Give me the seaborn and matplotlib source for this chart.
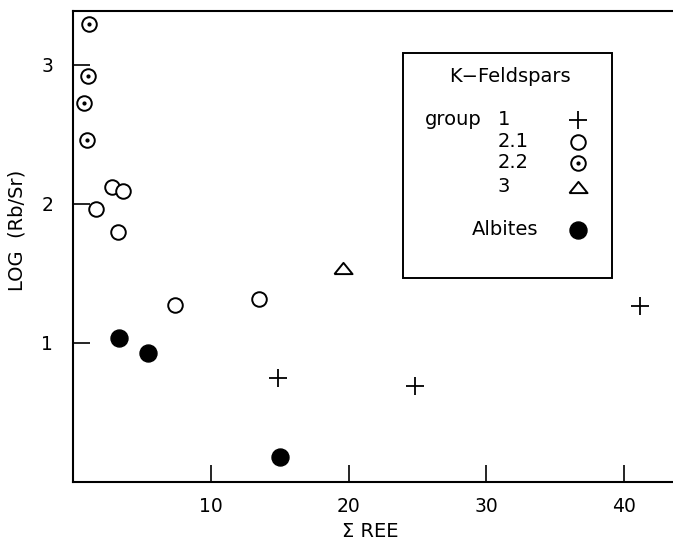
"""Scatter of LOG(Rb/Sr) vs sum REE for K-feldspar groups and albites."""

import pandas as pd
import matplotlib
matplotlib.use("Agg")
import matplotlib.pyplot as plt
import seaborn as sns
from matplotlib.patches import Rectangle

# data
g1_ree = [14.89, 24.81, 41.12]
g1_rbsr = [0.748, 0.688, 1.268]
g21_ree = [1.65, 2.84, 3.59, 3.27, 7.39, 13.51]
g21_rbsr = [1.965, 2.125, 2.09, 1.795, 1.275, 1.315]
g22_ree = [1.17, 1.10, 0.78, 1.02]
g22_rbsr = [3.295, 2.921, 2.725, 2.461]
g3_ree = [19.6]
g3_rbsr = [1.539]
alb_ree = [3.35, 5.43, 15.01]
alb_rbsr = [1.036, 0.928, 0.181]

x_ticks = [10, 20, 30, 40]
y_ticks = [1, 2, 3]
legend_title = "K\u2212Feldspars"
group_labels = ["1", "2.1", "2.2", "3"]

sns.set_style("ticks")
plt.rcParams["font.family"] = ["DejaVu Sans"]
plt.rcParams["text.color"] = "black"
plt.rcParams["axes.labelcolor"] = "black"
plt.rcParams["axes.edgecolor"] = "black"
plt.rcParams["xtick.color"] = "black"
plt.rcParams["ytick.color"] = "black"

tri = [(-1, -0.62), (1, -0.62), (0, 0.62), (-1, -0.62)]
FS = 14

df = pd.concat([
    pd.DataFrame({"ree": g1_ree, "rbsr": g1_rbsr, "grp": "1"}),
    pd.DataFrame({"ree": g21_ree, "rbsr": g21_rbsr, "grp": "2.1"}),
    pd.DataFrame({"ree": g22_ree, "rbsr": g22_rbsr, "grp": "2.2"}),
    pd.DataFrame({"ree": g3_ree, "rbsr": g3_rbsr, "grp": "3"}),
    pd.DataFrame({"ree": alb_ree, "rbsr": alb_rbsr, "grp": "alb"}),
], ignore_index=True)

fig = plt.figure(figsize=(6.73, 5.44), dpi=100)
ax = fig.add_axes([0.108, 0.114, 0.892, 0.866])

sub = df[df.grp == "1"]
sns.scatterplot(data=sub, x="ree", y="rbsr", marker="+", s=170, color="black",
                linewidth=1.3, ax=ax, legend=False)
sub = df[df.grp.isin(["2.1", "2.2"])]
sns.scatterplot(data=sub, x="ree", y="rbsr", marker="o", s=110, facecolor="white",
                edgecolor="black", linewidth=1.4, ax=ax, legend=False)
sub = df[df.grp == "2.2"]
ax.scatter(sub.ree, sub.rbsr, marker="o", s=4, color="black", zorder=5)
sub = df[df.grp == "3"]
sns.scatterplot(data=sub, x="ree", y="rbsr", marker=tri, s=170, facecolor="white",
                edgecolor="black", linewidth=1.4, ax=ax, legend=False)
sub = df[df.grp == "alb"]
sns.scatterplot(data=sub, x="ree", y="rbsr", marker="o", s=150, color="black",
                edgecolor="black", ax=ax, legend=False)

ax.set_xlim(-0.04, 43.54)
ax.set_ylim(0.0, 3.388)
ax.set_xticks(x_ticks)
ax.set_yticks(y_ticks)
ax.tick_params(axis="both", direction="in", length=12, width=1.2, labelsize=13.5,
               bottom=True, left=True, top=False, right=False)
ax.tick_params(axis="x", pad=11)
ax.tick_params(axis="y", pad=14)
ax.spines["right"].set_visible(False)
for s in ["left", "top", "bottom"]:
    ax.spines[s].set_linewidth(1.5)

ax.set_xlabel("\u03a3 REE", fontsize=FS)
ax.set_ylabel("LOG  (Rb/Sr)", fontsize=FS)
ax.xaxis.set_label_coords(0.495, -0.085)
ax.yaxis.set_label_coords(-0.077, 0.535)

# hand-made legend box
ax.add_patch(Rectangle((0.5497, 0.4325), 0.3492, 0.479, transform=ax.transAxes,
                       fill=False, lw=1.4, edgecolor="black"))
ax.text(0.7285, 0.8605, legend_title, transform=ax.transAxes, fontsize=FS,
        ha="center", va="center")
ax.text(0.5869, 0.7686, "group", transform=ax.transAxes, fontsize=FS,
        ha="left", va="center")
rows_y = [0.7686, 0.7225, 0.6773, 0.627]
for lab, yy in zip(group_labels, rows_y):
    ax.text(0.708, yy, lab, transform=ax.transAxes, fontsize=FS,
            ha="left", va="center")
ax.text(0.6647, 0.535, "Albites", transform=ax.transAxes, fontsize=FS,
        ha="left", va="center")

mx = 0.8423
ax.scatter([mx], [rows_y[0]], marker="+", s=170, color="black", linewidths=1.3,
           transform=ax.transAxes)
ax.scatter([mx], [rows_y[1]], marker="o", s=110, facecolor="white",
           edgecolor="black", linewidths=1.4, transform=ax.transAxes)
ax.scatter([mx], [rows_y[2]], marker="o", s=110, facecolor="white",
           edgecolor="black", linewidths=1.4, transform=ax.transAxes)
ax.scatter([mx], [rows_y[2]], marker="o", s=4, color="black",
           transform=ax.transAxes, zorder=5)
ax.scatter([mx], [rows_y[3]], marker=tri, s=170, facecolor="white",
           edgecolor="black", linewidths=1.4, transform=ax.transAxes)
ax.scatter([mx], [0.535], marker="o", s=150, color="black",
           transform=ax.transAxes)

fig.savefig("out.png", dpi=100)
plt.close(fig)
